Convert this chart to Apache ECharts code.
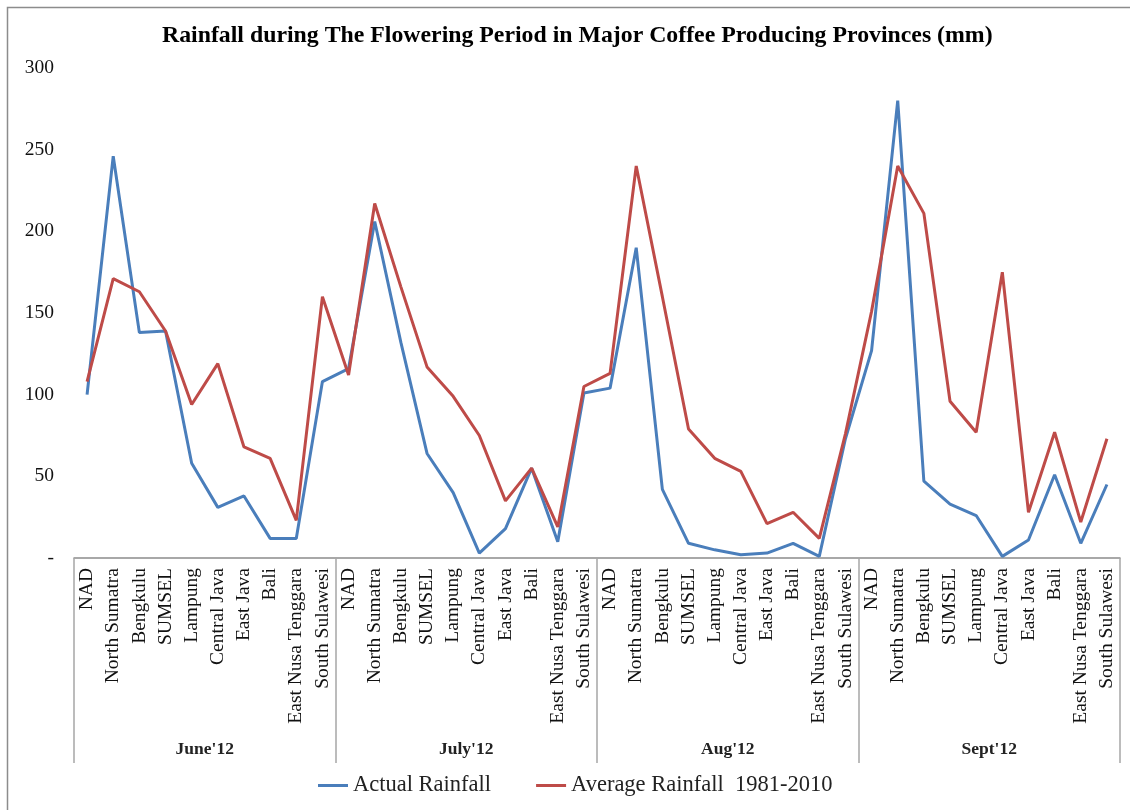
<!DOCTYPE html>
<html>
<head>
<meta charset="utf-8">
<script src="https://cdn.jsdelivr.net/npm/echarts@6/dist/echarts.min.js"></script>
<style>
  html, body { margin: 0; padding: 0; background: #fff; }
  #chart { width: 1130px; height: 810px; }
</style>
</head>
<body>
<div id="chart"></div>
<script>
// Provinces repeated for each month of the flowering season
const provinces = ['NAD', 'North Sumatra', 'Bengkulu', 'SUMSEL', 'Lampung',
  'Central Java', 'East Java', 'Bali', 'East Nusa Tenggara', 'South Sulawesi'];
const months = ["June'12", "July'12", "Aug'12", "Sept'12"];

// Actual rainfall (mm), one row of ten provinces per month
const actualJune = [100, 246, 138, 139, 58, 31, 38, 12, 12, 108];
const actualJuly = [116, 206, 132, 64, 40, 3, 18, 55, 10, 101];
const actualAug  = [104, 190, 42, 9, 5, 2, 3, 9, 1, 73];
const actualSept = [127, 280, 47, 33, 26, 1, 11, 51, 9, 45];

// Average rainfall 1981-2010 (mm)
const avgJune = [108, 171, 163, 139, 94, 119, 68, 61, 23, 160];
const avgJuly = [112, 217, 166, 117, 99, 75, 35, 55, 19, 105];
const avgAug  = [113, 240, 160, 79, 61, 53, 21, 28, 12, 76];
const avgSept = [151, 240, 211, 96, 77, 175, 28, 77, 22, 73];

const yTicks = [0, 50, 100, 150, 200, 250, 300];

const categories = months.flatMap(() => provinces);
const actual = [].concat(actualJune, actualJuly, actualAug, actualSept);
const average = [].concat(avgJune, avgJuly, avgAug, avgSept);

const serif = '"Liberation Serif", "Times New Roman", serif';
const blue = '#4A7EBB';
const red = '#BE4B48';
const frame = '#8c8c8c';

const chart = echarts.init(document.getElementById('chart'), null, { renderer: 'canvas' });

chart.setOption({
  backgroundColor: '#ffffff',
  animation: false,
  graphic: [{
    type: 'rect',
    shape: { x: 7.5, y: 7.5, width: 1140, height: 820 },
    style: { fill: 'none', stroke: frame, lineWidth: 1.5 },
    silent: true
  }],
  title: {
    text: 'Rainfall during The Flowering Period in Major Coffee Producing Provinces (mm)',
    left: 157,
    top: 19,
    textStyle: { fontFamily: serif, fontWeight: 'bold', fontSize: 23.8, color: '#000' }
  },
  legend: {
    bottom: 8,
    left: 313,
    itemGap: 45,
    itemWidth: 30,
    itemHeight: 3,
    icon: 'rect',
    textStyle: { fontFamily: serif, fontSize: 22.5, color: '#222' },
    data: ['Actual Rainfall', 'Average Rainfall  1981-2010']
  },
  grid: { left: 74, right: 10, top: 68, height: 490, containLabel: false },
  xAxis: [
    {
      type: 'category',
      data: categories,
      boundaryGap: true,
      axisLine: { show: true, lineStyle: { color: frame, width: 1.5 } },
      axisTick: { show: false },
      axisLabel: {
        interval: 0,
        rotate: 90,
        margin: 10,
        fontFamily: serif,
        fontSize: 19.5,
        color: '#111'
      }
    },
    {
      type: 'category',
      data: months,
      position: 'bottom',
      boundaryGap: true,
      axisLine: { show: false },
      axisTick: { show: true, length: 205, lineStyle: { color: '#a6a6a6', width: 1.5 } },
      axisLabel: {
        interval: 0,
        margin: 182,
        fontFamily: serif,
        fontWeight: 'bold',
        fontSize: 17.5,
        color: '#222'
      }
    }
  ],
  yAxis: {
    type: 'value',
    min: yTicks[0],
    max: yTicks[yTicks.length - 1],
    interval: 50,
    axisLine: { show: false },
    axisTick: { show: false },
    splitLine: { show: false },
    axisLabel: {
      margin: 20,
      fontFamily: serif,
      fontSize: 19.5,
      color: '#111',
      formatter: v => (v === 0 ? '-' : String(v))
    }
  },
  series: [
    {
      name: 'Actual Rainfall',
      type: 'line',
      xAxisIndex: 0,
      data: actual,
      showSymbol: false,
      symbol: 'none',
      lineStyle: { color: blue, width: 3 },
      itemStyle: { color: blue }
    },
    {
      name: 'Average Rainfall  1981-2010',
      type: 'line',
      xAxisIndex: 0,
      data: average,
      showSymbol: false,
      symbol: 'none',
      lineStyle: { color: red, width: 3 },
      itemStyle: { color: red }
    }
  ]
});
</script>
</body>
</html>
